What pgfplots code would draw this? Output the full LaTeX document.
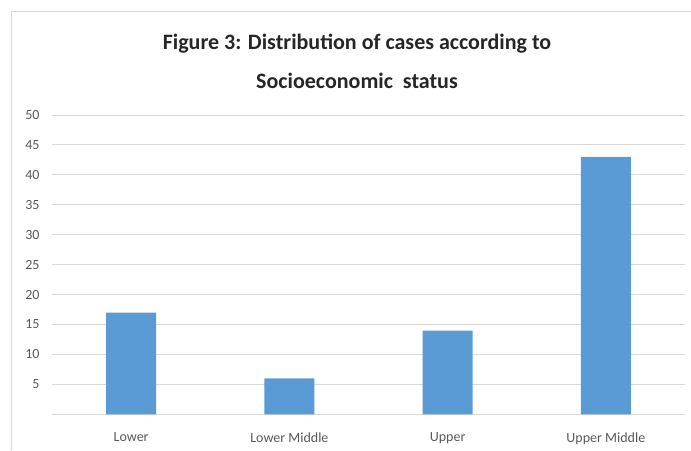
\documentclass[border=0pt]{standalone}
\usepackage{pgfplots}
\pgfplotsset{compat=1.18}
\usepackage{fontspec}
\setmainfont{Carlito}
\definecolor{barblue}{HTML}{5B9BD5}
\definecolor{gridgray}{HTML}{D9D9D9}
\definecolor{labelgray}{HTML}{595959}
\definecolor{framegray}{HTML}{D9D9D9}
\begin{document}
\begin{tikzpicture}
\path[use as bounding box] (0,0) rectangle (691pt,-450pt);
% chart frame (top and left edges)
\draw[framegray, line width=0.8pt] (11.5pt,-450pt) -- (11.5pt,-11pt) -- (691pt,-11pt);
% title
\node[anchor=base, font=\fontsize{22}{24}\selectfont\bfseries, text=black!85] at (357pt,-49.5pt) {Figure 3: Distribution of cases according to};
\node[anchor=base, font=\fontsize{22}{24}\selectfont\bfseries, text=black!85] at (357pt,-88.5pt) {Socioeconomic\ \ status};
\begin{axis}[
  at={(52pt,-414.3pt)}, anchor=south west,
  scale only axis, width=633pt, height=299.3pt,
  xmin=-0.5, xmax=3.5, ymin=0, ymax=50,
  axis line style={draw=none},
  ytick={0,5,...,50},
  yticklabels={,5,10,15,20,25,30,35,40,45,50},
  xtick={0,1,2,3},
  xticklabels={Lower,Lower Middle,Upper,Upper Middle},
  ymajorgrids, grid style={gridgray, line width=0.9pt},
  major tick length=0pt,
  tick label style={font=\fontsize{14}{16}\selectfont, text=labelgray},
  yticklabel style={xshift=-9pt},
  xticklabel style={yshift=-15pt},
  /pgf/number format/assume math mode=true,
]
\addplot[ybar, bar width=50pt, fill=barblue, draw=none] coordinates {
  (0,17) (1,6) (2,14) (3,43)
};
\end{axis}
\end{tikzpicture}
\end{document}
